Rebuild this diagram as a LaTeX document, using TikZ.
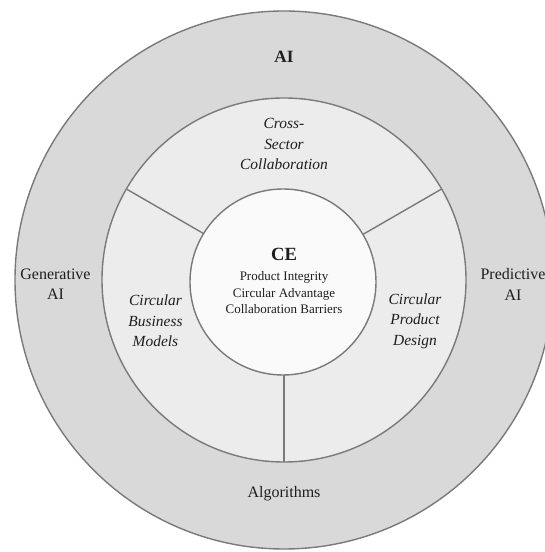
\documentclass[tikz,border=0pt]{standalone}
\usepackage{fontspec}
\setmainfont{Liberation Serif}

\definecolor{aigray}{RGB}{217,217,217}
\definecolor{ringgray}{RGB}{236,236,236}
\definecolor{coregray}{RGB}{250,250,251}
\definecolor{edgegray}{RGB}{122,122,122}
\definecolor{inkgray}{RGB}{30,30,30}

\tikzset{
  ring/.style={draw=edgegray, line width=0.8pt},
  outerlabel/.style={align=center, text=inkgray, inner sep=1pt, font=\fontsize{9.1}{11.6}\selectfont},
  pillar/.style={align=center, text=inkgray, inner sep=1pt, font=\itshape\fontsize{8.8}{11.6}\selectfont},
  corelabel/.style={align=center, text=inkgray, inner sep=1pt, font=\fontsize{7.4}{9.4}\selectfont}
}

\begin{document}
\begin{tikzpicture}

% Frame of the picture
\useasboundingbox (-5.68,-5.44) rectangle (5.2,5.6);
\fill[white] (-5.68,-5.44) rectangle (5.2,5.6);

% Coordinates of the centres
\coordinate (O) at (0,0);
\coordinate (C) at (-0.02,-0.04);

% Outer ring (AI)
\draw[ring, fill=aigray] (O) circle (5.38);

% Middle ring
\draw[ring, fill=ringgray] (O) circle (3.64);

% Dividers between the three fields
\foreach \a in {30,150,270}
{
    \coordinate (div\a) at (\a:3.64);
    \draw[ring] (O) -- (div\a);
}

% Core circle (CE)
\draw[ring, fill=coregray] (C) circle (1.86);

%%%%%%%%%% Labels %%%%%%%%%%
% Outer ring
\node[outerlabel, font=\bfseries\fontsize{9.8}{11.6}\selectfont] (ai) at (0,4.46) {AI};
\node[outerlabel] (gen) at (-4.57,-0.09) {Generative\\AI};
\node[outerlabel] (pred) at (4.58,-0.09) {Predictive\\AI};
\node[outerlabel] (algo) at (0,-4.28) {Algorithms};

% Middle ring
\node[pillar] (csc) at (0,2.72) {Cross-\\Sector\\Collaboration};
\node[pillar] (cbm) at (-2.57,-0.82) {Circular\\Business\\Models};
\node[pillar] (cpd) at (2.62,-0.82) {Circular\\Product\\Design};

% Core
\node[corelabel, font=\bfseries\fontsize{10.6}{12}\selectfont] (ce) at (0,0.51) {CE};
\node[corelabel] (cetext) at (0,-0.26) {Product Integrity\\Circular Advantage\\Collaboration Barriers};

\end{tikzpicture}
\end{document}
